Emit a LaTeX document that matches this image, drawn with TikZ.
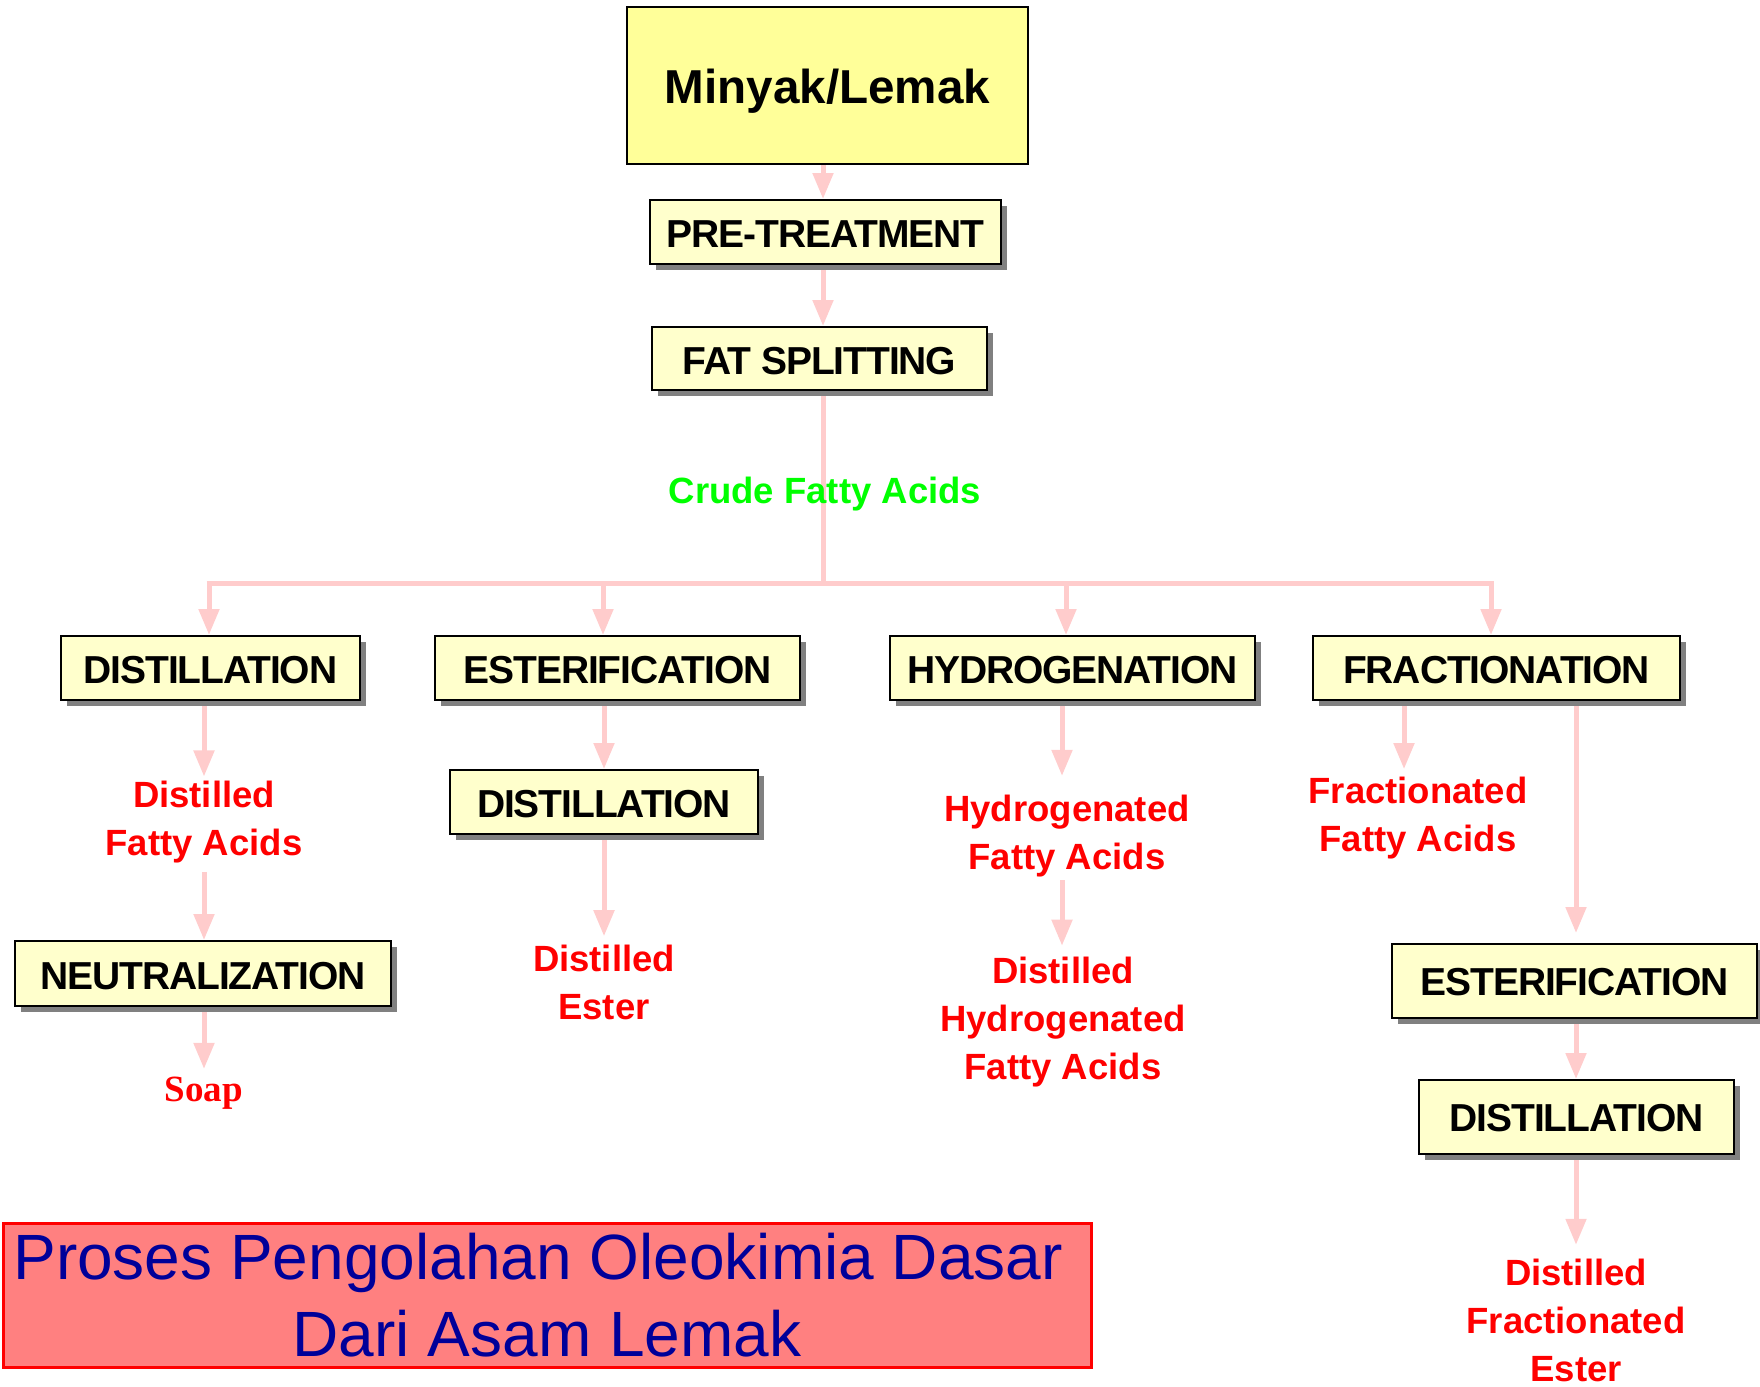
\documentclass[tikz,border=0pt]{standalone}
\usepackage{fontspec}
\setmainfont{Liberation Sans}
\newfontfamily\soapfont{Liberation Serif}
\newfontfamily\boxfont[LetterSpace=-2.8]{Liberation Sans}
\usetikzlibrary{arrows.meta,shadows}
\definecolor{boxfill}{HTML}{FFFFCC}
\definecolor{topfill}{HTML}{FFFF99}
\definecolor{arrowpink}{HTML}{FFCCCC}
\definecolor{titlefill}{HTML}{FF8080}
\definecolor{titleblue}{HTML}{000099}
\definecolor{crudegreen}{HTML}{00FF00}
\pgfdeclarelayer{bg}
\pgfsetlayers{bg,main}
\tikzset{
  procbox/.style={draw=black, line width=1pt, fill=boxfill, inner sep=0pt,
    font=\boxfont\bfseries\fontsize{19.5pt}{22pt}\selectfont,
    text height=15.5pt, text depth=0pt,
    drop shadow={shadow xshift=3pt, shadow yshift=-3pt, fill=black!50, opacity=1}},
  prodtext/.style={text=red, font=\bfseries\fontsize{18.25pt}{24pt}\selectfont,
    align=center, inner xsep=0pt, inner ysep=4pt},
  flow/.style={draw=arrowpink, line width=2.5pt, -{Triangle[width=10pt,length=13pt]}},
  busline/.style={draw=arrowpink, line width=2.5pt},
}
\begin{document}
\begin{tikzpicture}[x=0.5pt, y=-0.5pt]
\useasboundingbox (0,0) rectangle (1760,1386);
% top chain
\node[draw=black, line width=1.2pt, fill=topfill, minimum width=200.5pt, minimum height=78.5pt, inner sep=0pt,
  text height=18.2pt, text depth=0pt,
  font=\bfseries\fontsize{23.8pt}{28pt}\selectfont] (minyak) at (827.5,85.5) {Minyak/Lemak};
\node[procbox, minimum width=175.5pt, minimum height=32pt] (pre) at (825.5,232) {PRE-TREATMENT};
\node[procbox, minimum width=167.5pt, minimum height=31.5pt] (fat) at (819.5,358.5) {FAT SPLITTING};
\node[text=crudegreen, font=\bfseries\fontsize{18.25pt}{22pt}\selectfont, inner sep=0pt] (crude) at (825,494) {Crude Fatty Acids};
\coordinate (cx) at (823,0);
\coordinate (busC) at (823,583);
\coordinate (busL) at (209,583);
\coordinate (busE) at (603,583);
\coordinate (busH) at (1066,583);
\coordinate (busR) at (1491,583);
% row 2
\node[procbox, minimum width=149.5pt, minimum height=32pt] (dist1) at (210.5,668) {DISTILLATION};
\node[procbox, minimum width=182.5pt, minimum height=32pt] (ester1) at (617.5,668) {ESTERIFICATION};
\node[procbox, minimum width=182.5pt, minimum height=32pt] (hydro) at (1072.5,668) {HYDROGENATION};
\node[procbox, minimum width=183.5pt, minimum height=32pt] (fract) at (1496.5,668) {FRACTIONATION};
% left column
\coordinate (c1) at (204,0);
\node[prodtext] (dfa) at (204,822.5) {Distilled\\Fatty Acids};
\node[procbox, minimum width=188pt, minimum height=32.5pt] (neut) at (203,973.5) {NEUTRALIZATION};
\node[prodtext, font=\soapfont\bfseries\fontsize{18.5pt}{22pt}\selectfont] (soap) at (204,1093.5) {Soap};
% ester column
\coordinate (c2) at (604,0);
\node[procbox, minimum width=154pt, minimum height=32pt] (dist2) at (604,802) {DISTILLATION};
\node[prodtext] (dester) at (604,982) {Distilled\\Ester};
% hydro column
\coordinate (c3) at (1062,0);
\node[prodtext] (hfa) at (1067,836.5) {Hydrogenated\\Fatty Acids};
\node[prodtext] (dhfa) at (1063,1022.5) {Distilled\\Hydrogenated\\Fatty Acids};
% fract column
\coordinate (c4) at (1404,0);
\coordinate (c5) at (1576,0);
\node[prodtext] (ffa) at (1418,818.5) {Fractionated\\Fatty Acids};
\node[procbox, minimum width=182.5pt, minimum height=37pt, text height=14.5pt] (ester2) at (1574.5,981) {ESTERIFICATION};
\node[procbox, minimum width=157.5pt, minimum height=37pt, text height=14.5pt] (dist3) at (1576.5,1117) {DISTILLATION};
\node[prodtext] (dfe) at (1576,1320) {Distilled\\Fractionated\\Ester};
% title
\node[draw=red, line width=1.5pt, fill=titlefill, minimum width=544pt, minimum height=72pt,
  text=titleblue, font=\fontsize{32pt}{38.5pt}\selectfont, align=center, inner sep=0pt]
  (title) at (547,1295) {Proses Pengolahan Oleokimia Dasar\rule{8.9pt}{0pt}\\Dari Asam Lemak};
% connectors
\begin{pgfonlayer}{bg}
\draw[flow] (minyak.south -| cx) -- (pre.north -| cx);
\draw[flow] (pre.south -| cx) -- (fat.north -| cx);
\draw[busline] (fat.south -| cx) -- (busC);
\draw[busline] ([xshift=-1.25pt]busL) -- ([xshift=1.25pt]busR);
\draw[flow] (busL) -- (busL |- dist1.north);
\draw[flow] (busE) -- (busE |- ester1.north);
\draw[flow] (busH) -- (busH |- hydro.north);
\draw[flow] (busR) -- (busR |- fract.north);
\draw[flow, shorten >=-1.7pt] (dist1.south -| c1) -- (dfa.north -| c1);
\draw[flow] (dfa.south -| c1) -- (neut.north -| c1);
\draw[flow] (neut.south -| c1) -- (soap.north -| c1);
\draw[flow] (ester1.south -| c2) -- (dist2.north -| c2);
\draw[flow] (dist2.south -| c2) -- (dester.north -| c2);
\draw[flow, shorten >=5.6pt] (hydro.south -| c3) -- (hfa.north -| c3);
\draw[flow, shorten <=-2.8pt, shorten >=1.7pt] (hfa.south -| c3) -- (dhfa.north -| c3);
\draw[flow] (fract.south -| c4) -- (ffa.north -| c4);
\draw[flow, shorten >=5pt] (fract.south -| c5) -- (ester2.north -| c5);
\draw[flow] (ester2.south -| c5) -- (dist3.north -| c5);
\draw[flow, shorten >=2.7pt] (dist3.south -| c5) -- (dfe.north -| c5);
\end{pgfonlayer}
\end{tikzpicture}
\end{document}
